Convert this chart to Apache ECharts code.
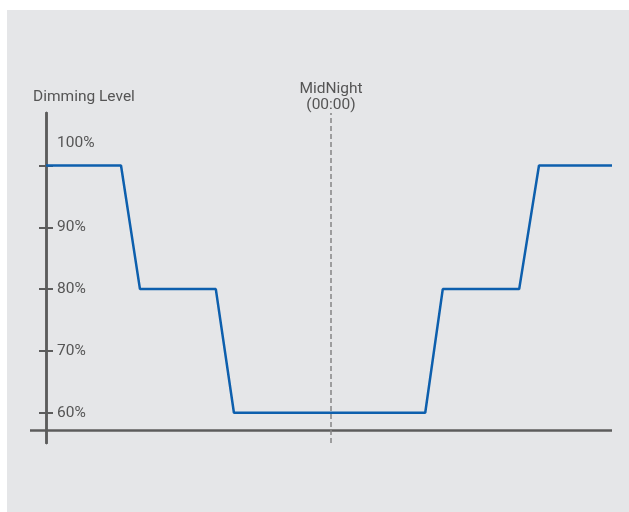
<!DOCTYPE html>
<html>
<head>
<meta charset="utf-8">
<script src="https://cdn.jsdelivr.net/npm/echarts@6/dist/echarts.min.js"></script>
<style>
html,body{margin:0;padding:0;background:#fff;}
#main{width:629px;height:512px;}
</style>
</head>
<body>
<div id="main"></div>
<script>
// Time position along the night (0 = start, 100 = end of schedule)
var timePos = [0, 13.25, 16.6, 30.0, 33.2, 67.0, 70.1, 83.6, 87.1, 100];
// Dimming level (%)
var dimLevel = [100, 100, 80, 80, 60, 60, 80, 80, 100, 100];
// Y tick values
var yTicks = [60, 70, 80, 90, 100];
// Midnight position
var midnightPos = 50.35;
var midnightLabel = 'MidNight\n(00:00)';
var yTitle = 'Dimming Level';

var axisColor = '#5c5c5c';
var textColor = '#555555';
var fontFam = 'Roboto, "Open Sans", sans-serif';
var fs = 15.5;

var chart = echarts.init(document.getElementById('main'), null, {renderer: 'canvas'});

var yMin = 55.1, yMax = 108.5, xAxisLineAt = 57.2;

function yAxisBase(inside) {
  return {
    type: 'value',
    position: 'left',
    offset: -16,
    min: yMin,
    max: yMax,
    splitLine: {show: false},
    axisLine: {show: true, onZero: false, lineStyle: {color: axisColor, width: 2.5}},
    axisTick: {show: true, inside: inside, length: 7, customValues: yTicks,
      lineStyle: {color: axisColor, width: 2}},
    axisLabel: {show: false}
  };
}

var yMain = yAxisBase(false);
yMain.axisLabel = {
  show: true,
  inside: true,
  margin: 11,
  align: 'left',
  customValues: yTicks,
  color: textColor,
  fontSize: fs,
  fontFamily: fontFam,
  formatter: function (v) {
    if (v === 100) return '{top|100%}';
    return v + '%';
  },
  rich: {
    top: {color: textColor, fontSize: fs, fontFamily: fontFam, padding: [0, 0, 44, 0]}
  }
};
var ySecond = yAxisBase(true);

var option = {
  backgroundColor: '#ffffff',
  animation: false,
  graphic: [{
    type: 'rect', z: -10, silent: true,
    shape: {x: 7, y: 10, width: 622, height: 502},
    style: {fill: '#e5e6e8'}
  }],
  title: {
    text: yTitle,
    left: 33, top: 89, padding: 0,
    textStyle: {color: textColor, fontSize: fs, fontWeight: 'normal', fontFamily: fontFam}
  },
  grid: {left: 30, right: 17, top: 113, bottom: 69},
  xAxis: {
    type: 'value',
    min: -2.83,
    max: 100,
    show: true,
    axisLine: {show: false},
    axisTick: {show: false},
    axisLabel: {show: false},
    splitLine: {show: false}
  },
  yAxis: [yMain, ySecond],
  series: [{
    type: 'line',
    data: timePos.map(function (t, i) { return [t, dimLevel[i]]; }),
    showSymbol: false,
    symbol: 'none',
    lineStyle: {color: '#0d5fad', width: 2.5},
    z: 5,
    markLine: {
      silent: true,
      symbol: ['none', 'none'],
      animation: false,
      data: [
        {yAxis: xAxisLineAt, lineStyle: {color: axisColor, width: 2.5, type: 'solid'}, label: {show: false}},
        {xAxis: midnightPos, lineStyle: {color: '#858585', width: 1.5, type: [5, 3]},
          label: {show: true, position: 'end', formatter: midnightLabel, color: textColor,
            fontSize: fs, fontFamily: fontFam, lineHeight: 16, distance: 0}}
      ]
    }
  }]
};
chart.setOption(option);
</script>
</body>
</html>
